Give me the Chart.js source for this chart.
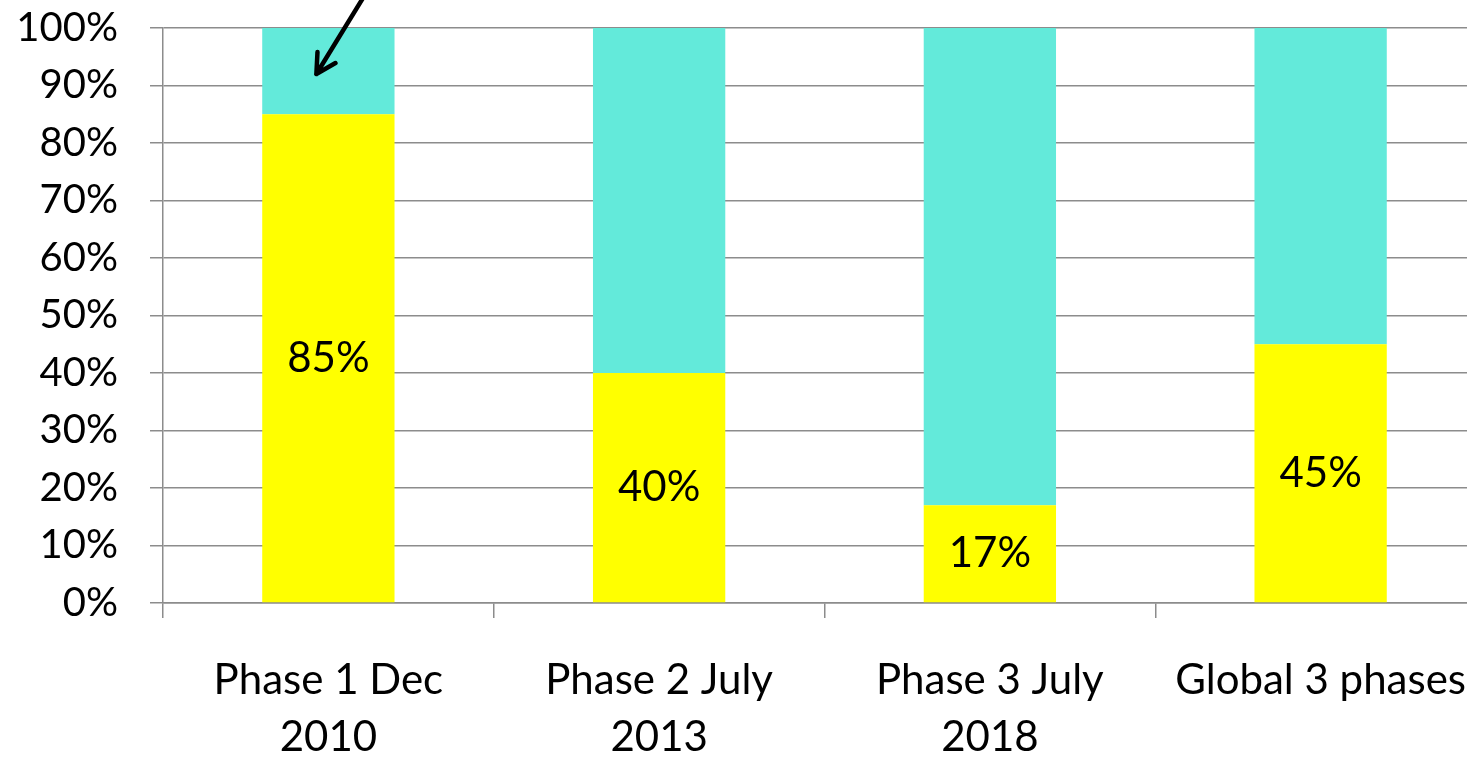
<!DOCTYPE html>
<html>
<head>
<meta charset="utf-8">
<script src="https://cdn.jsdelivr.net/npm/chart.js@4/dist/chart.umd.min.js"></script>
<style>
  html, body { margin: 0; padding: 0; background: #fff; overflow: hidden; }
  #wrap { position: relative; width: 1488px; height: 759px; }
</style>
</head>
<body>
<div id="wrap"><canvas id="c"></canvas></div>
<script>
// Share of each phase: yellow part and the remainder up to 100%
const categories = [["Phase 1 Dec", "2010"], ["Phase 2 July", "2013"], ["Phase 3 July", "2018"], ["Global 3 phases"]];
const yellowShare = [85, 40, 17, 45];
const tealShare = [15, 60, 83, 55];
const yTicks = [0, 10, 20, 30, 40, 50, 60, 70, 80, 90, 100];

const FONT = "Lato, 'Open Sans', sans-serif";

// Labels centred inside the yellow segments
const segmentLabels = {
  id: 'segmentLabels',
  afterDatasetsDraw(chart) {
    const ctx = chart.ctx;
    const meta = chart.getDatasetMeta(0);
    ctx.save();
    ctx.font = "42px " + FONT;
    ctx.fillStyle = "#000";
    ctx.textAlign = "center";
    ctx.textBaseline = "middle";
    meta.data.forEach((bar, i) => {
      ctx.fillText(yellowShare[i] + "%", bar.x, (bar.y + bar.base) / 2);
    });
    ctx.restore();
  }
};

// Pointer arrow onto the top segment of the first bar
const pointerArrow = {
  id: 'pointerArrow',
  afterDraw(chart) {
    const ctx = chart.ctx;
    const x = chart.scales.x.getPixelForValue(0) - 12;
    const y = chart.scales.y.getPixelForValue(92);
    const ang = Math.atan2(-75, 46);
    const len = 110;
    ctx.save();
    ctx.strokeStyle = "#000";
    ctx.lineWidth = 4.5;
    ctx.lineCap = "round";
    ctx.lineJoin = "round";
    ctx.beginPath();
    ctx.moveTo(x, y);
    ctx.lineTo(x + Math.cos(ang) * len, y + Math.sin(ang) * len);
    const wing = 22, spread = 0.5;
    ctx.moveTo(x + Math.cos(ang - spread) * wing, y + Math.sin(ang - spread) * wing);
    ctx.lineTo(x, y);
    ctx.lineTo(x + Math.cos(ang + spread) * wing, y + Math.sin(ang + spread) * wing);
    ctx.stroke();
    ctx.restore();
  }
};

new Chart(document.getElementById('c'), {
  type: 'bar',
  data: {
    labels: categories,
    datasets: [
      { data: yellowShare, backgroundColor: '#FFFF00', borderWidth: 0 },
      { data: tealShare, backgroundColor: '#63EADA', borderWidth: 0 }
    ]
  },
  options: {
    responsive: true,
    maintainAspectRatio: false,
    animation: false,
    events: [],
    layout: { padding: { top: 28, right: 2, left: 0, bottom: 0 } },
    datasets: { bar: { categoryPercentage: 1, barPercentage: 0.4 } },
    plugins: { legend: { display: false }, tooltip: { enabled: false } },
    scales: {
      x: {
        stacked: true,
        offset: true,
        grid: {
          offset: true,
          drawOnChartArea: false,
          drawTicks: true,
          tickLength: 15,
          color: '#8c8c8c',
          lineWidth: 1.5
        },
        border: { display: true, color: '#8c8c8c', width: 1.5 },
        ticks: {
          color: '#000',
          font: { family: FONT, size: 42, lineHeight: 1.38 },
          padding: 33,
          maxRotation: 0,
          autoSkip: false
        },
        afterFit(scale) { scale.height = 156; scale.paddingLeft = 0; scale.paddingRight = 0; }
      },
      y: {
        stacked: true,
        min: 0,
        max: 100,
        afterBuildTicks(scale) { scale.ticks = yTicks.map(v => ({ value: v })); },
        grid: { color: '#8c8c8c', lineWidth: 1.5, tickLength: 13 },
        border: { display: true, color: '#8c8c8c', width: 1.5 },
        ticks: {
          color: '#000',
          font: { family: FONT, size: 40 },
          padding: 32,
          callback: v => v + '%'
        },
        afterFit(scale) { scale.width = 163; scale.paddingTop = 0; scale.paddingBottom = 0; }
      }
    }
  },
  plugins: [segmentLabels, pointerArrow]
});
</script>
</body>
</html>
